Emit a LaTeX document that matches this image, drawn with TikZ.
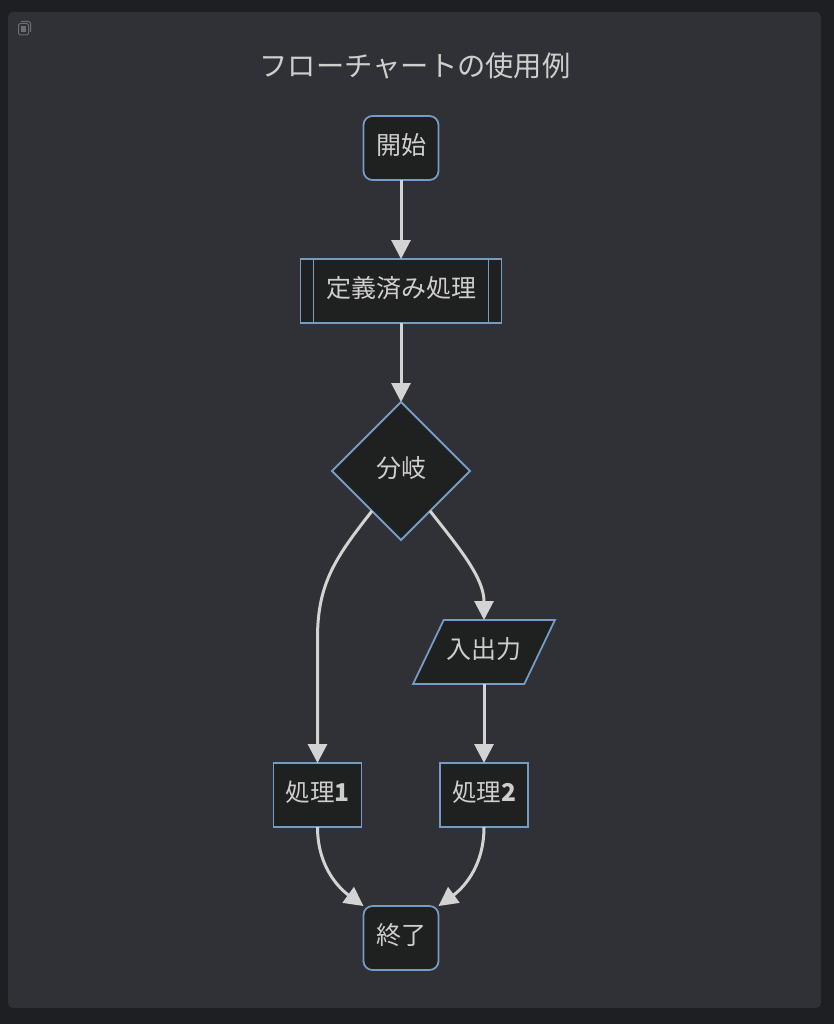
\documentclass[tikz,border=0pt]{standalone}
\usepackage{fontspec}
\setmainfont{Noto Sans CJK JP}
\usetikzlibrary{positioning,arrows.meta,shapes.geometric,calc}
\definecolor{PageDark}{RGB}{30,31,35}
\definecolor{PanelGrey}{RGB}{48,49,54}
\definecolor{NodeFill}{RGB}{31,32,32}
\definecolor{NodeLine}{RGB}{118,155,196}
\definecolor{EdgeGrey}{RGB}{211,211,211}
\definecolor{LabelGrey}{RGB}{206,206,204}
\definecolor{IconGrey}{RGB}{108,109,113}

\begin{document}
\begin{tikzpicture}[
x=1pt,y=1pt,
node distance=79pt,
base/.style={draw=NodeLine,fill=NodeFill,line width=1.8pt,outer sep=0pt,inner sep=0pt,text=LabelGrey,text height=21pt,text depth=7.5pt,font=\fontsize{25}{29}\selectfont},
terminal/.style={base,rectangle,rounded corners=9pt,minimum width=75pt,minimum height=64pt},
procbox/.style={base,rectangle,minimum width=88pt,minimum height=64pt,font=\fontsize{24.5}{29}\selectfont},
subproc/.style={base,rectangle,minimum width=201pt,minimum height=64pt,path picture={
\draw[NodeLine,line width=1.8pt] ([xshift=13pt]path picture bounding box.north west)--([xshift=13pt]path picture bounding box.south west);
\draw[NodeLine,line width=1.8pt] ([xshift=-13pt]path picture bounding box.north east)--([xshift=-13pt]path picture bounding box.south east);}},
decision/.style={base,diamond,aspect=1,minimum width=138pt,minimum height=138pt},
iobox/.style={base,trapezium,trapezium left angle=45,trapezium right angle=135,trapezium stretches=true,minimum width=142pt,minimum height=64pt},
arrow/.style={-{Triangle[length=19pt,width=19pt]},line width=3pt,draw=EdgeGrey},
iconline/.style={draw=IconGrey,line width=1pt,rounded corners=1.5pt}
]
% panel behind the chart
\useasboundingbox (0,0) rectangle (834,-1024);
\fill[PageDark] (0,0) rectangle (834,-1024);
\fill[PanelGrey,rounded corners=5pt] (8,-12) rectangle (821,-1008);
% copy icon
\draw[iconline] (21,-21.5)--(30.5,-21.5)--(30.5,-32);
\draw[iconline] (18.5,-23.5) rectangle (28.5,-35);
\fill[IconGrey] (21,-26) rectangle (26,-32.5);

\node[text=LabelGrey,font=\fontsize{28.3}{32}\selectfont] (title) at (415,-66) {フローチャートの使用例};
\node[terminal] (start) at (401,-148) {開始};
\node[subproc,below=of start] (predef) {定義済み処理};
\node[decision,below=of predef] (branch) {分岐};
\node[iobox,below=80pt of branch,xshift=83pt] (inout) {入出力};
\node[procbox,below=of inout] (procb) {処理{\bfseries 2}};
\node[procbox,left=78.5pt of procb] (proca) {処理{\bfseries 1}};
\node[terminal,below=of procb,xshift=-83pt] (finish) {終了};

\draw[arrow] (start)--(predef);
\draw[arrow] (predef)--(branch);
\draw[arrow] (branch.234) .. controls +(-36,-46) and +(0,55) .. ($(proca.north)+(0,125)$)--(proca.north);
\draw[arrow] (branch.-54) .. controls +(30,-38) and +(0,42) .. (inout.north);
\draw[arrow] (inout.south-|procb.north)--(procb.north);
\draw[arrow] (proca.south) .. controls +(0,-42) and +(-22,16) .. (finish.north west);
\draw[arrow] (procb.south) .. controls +(0,-42) and +(22,16) .. (finish.north east);
\end{tikzpicture}
\end{document}
